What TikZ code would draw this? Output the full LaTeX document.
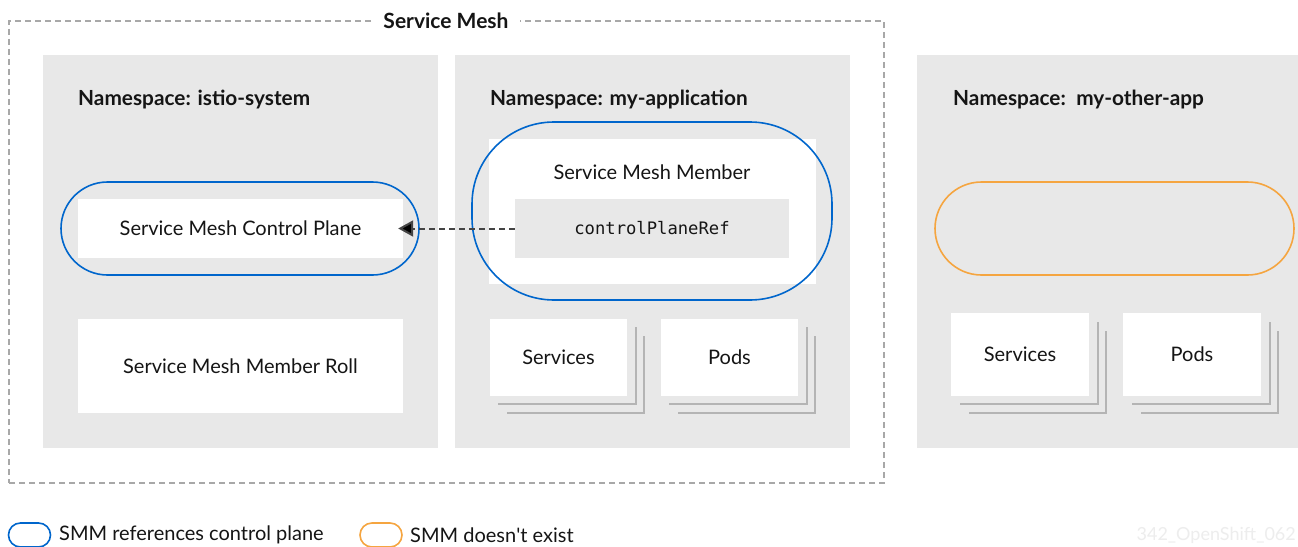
\documentclass[tikz,border=0pt]{standalone}
\usepackage{fontspec}
\setmainfont{Lato}
\newfontfamily\codefont{DejaVu Sans Mono}
\usetikzlibrary{arrows.meta}
\definecolor{nsgray}{HTML}{E8E8E8}
\definecolor{rhblue}{HTML}{0066CC}
\definecolor{rhorange}{HTML}{F5A540}
\definecolor{framegray}{HTML}{A8A8A8}
\definecolor{shadowgray}{HTML}{B4B4B4}
\definecolor{txt}{HTML}{151515}
\begin{document}
\begin{tikzpicture}[x=1pt,y=-1pt,
  nsbox/.style={fill=nsgray,draw=none,minimum width=#1,minimum height=393pt,inner sep=0pt},
  card/.style={fill=white,draw=none,inner sep=0pt,text=txt,font=\fontsize{20}{22}\selectfont},
  nstitle/.style={anchor=base west,inner sep=0pt,text=txt,font=\fontsize{20.8}{22}\selectfont\bfseries},
  ring/.style={draw=rhblue,line width=1.6pt,inner sep=0pt},
  ringo/.style={draw=rhorange,line width=1.6pt,inner sep=0pt},
  stack/.style={draw=shadowgray,line width=2pt},
  legtext/.style={anchor=west,inner sep=0pt,text=txt,font=\fontsize{20}{22}\selectfont},
  refarrow/.style={dash pattern=on 6pt off 4pt,line width=2pt,draw=txt!80,
     -{Triangle[length=15pt,width=16pt,fill=black]}}
]
\useasboundingbox (0,0) rectangle (1298,546);
\fill[white] (0,0) rectangle (1298,546);

% Service mesh frame
\node[draw=framegray,dash pattern=on 6pt off 4pt,line width=1.2pt,minimum width=875pt,minimum height=462pt,inner sep=0pt] (mesh) at (446.5,252) {};
\node[fill=white,inner xsep=11pt,inner ysep=2pt,text=txt,font=\fontsize{21}{22}\selectfont\bfseries] (meshtitle) at (446,21) {Service Mesh};

% Namespaces
\node[nsbox=395pt] (ns1) at (240.5,251.5) {};
\node[nsbox=395pt] (ns2) at (652.5,251.5) {};
\node[nsbox=403pt] (ns3) at (1118.5,251.5) {};
\node[nstitle] (t1) at (78,105) {Namespace: istio-system};
\node[nstitle] (t2) at (490,105) {Namespace: my-application};
\node[nstitle] (t3) at (953,105) {Namespace:\hspace{0.5em}my-other-app};

% istio-system
\node[ring,minimum width=358pt,minimum height=93pt,rounded corners=46.5pt] (cpring) at (240,228.5) {};
\node[card,minimum width=325pt,minimum height=59pt] (cp) at (240.5,228.5) {Service Mesh Control Plane};
\node[card,minimum width=325pt,minimum height=94pt] (roll) at (240.5,366) {Service Mesh Member Roll};

% my-application
\node[card,minimum width=327pt,minimum height=145pt] (smm) at (652.5,211.5) {};
\node[ring,minimum width=360pt,minimum height=178pt,rounded corners=82pt] (smmring) at (652,211) {};
\node[inner sep=0pt,text=txt,font=\fontsize{20}{22}\selectfont] (smmlabel) at (652,172) {Service Mesh Member};
\node[fill=nsgray,inner sep=0pt,minimum width=274pt,minimum height=59pt,text=txt,font=\codefont\fontsize{17.2}{19}\selectfont] (ref) at (652,228.5) {controlPlaneRef};
\draw[refarrow,shorten >=-5pt] (ref.west) -- (cp.east);

% stacks my-application
\draw[stack] (498,404) -- (636,404) -- (636,327);
\draw[stack] (507,413) -- (644,413) -- (644,336);
\node[card,minimum width=137pt,minimum height=77pt] (svc2) at (558.5,357.5) {Services};
\draw[stack] (669,404) -- (807,404) -- (807,327);
\draw[stack] (678,413) -- (815,413) -- (815,336);
\node[card,minimum width=137pt,minimum height=77pt] (pods2) at (729.5,357.5) {Pods};

% my-other-app
\node[ringo,minimum width=359pt,minimum height=93pt,rounded corners=46.5pt] (otherring) at (1114.5,228.5) {};
\draw[stack] (960,404) -- (1098,404) -- (1098,322);
\draw[stack] (969,413) -- (1106,413) -- (1106,331);
\node[card,minimum width=138pt,minimum height=83pt] (svc3) at (1020,354.5) {Services};
\draw[stack] (1132,404) -- (1270,404) -- (1270,322);
\draw[stack] (1141,413) -- (1278,413) -- (1278,331);
\node[card,minimum width=138pt,minimum height=83pt] (pods3) at (1192,354.5) {Pods};

% legend
\node[ring,minimum width=42pt,minimum height=24pt,rounded corners=12pt] (legb) at (29.5,535) {};
\node[legtext] (legbt) at (59,535) {SMM references control plane};
\node[ringo,minimum width=42pt,minimum height=24pt,rounded corners=12pt] (lego) at (381,535) {};
\node[legtext] (legot) at (410,535) {SMM doesn\textquotesingle t exist};
\node[anchor=east,inner sep=0pt,text=black!7,font=\fontsize{18}{20}\selectfont] (code) at (1296,535) {342\_OpenShift\_062};
\end{tikzpicture}
\end{document}
